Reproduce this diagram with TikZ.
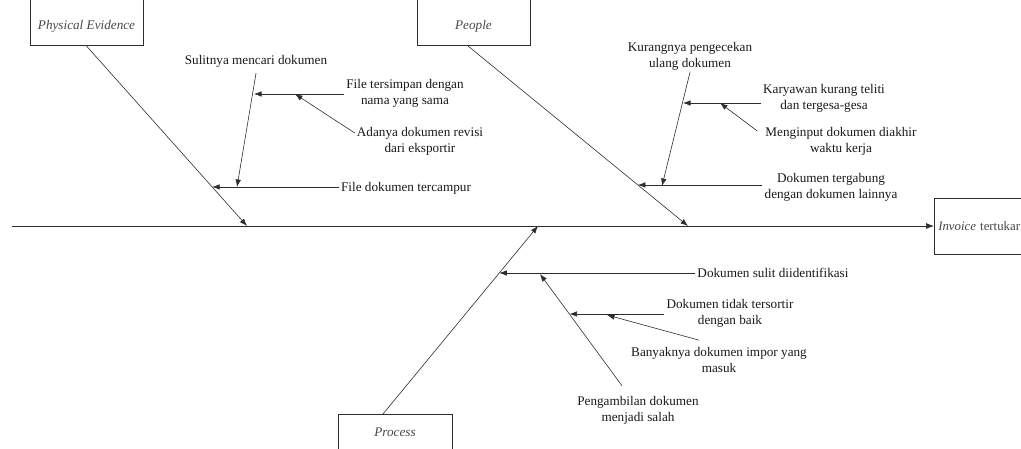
\documentclass[tikz,border=0pt]{standalone}
\usepackage{fontspec}
\setmainfont{Liberation Serif}
\usepackage{tikz}
\usetikzlibrary{arrows.meta,positioning,calc}
\definecolor{linegray}{RGB}{45, 45, 45}
\definecolor{textgray}{RGB}{25, 25, 25}

\begin{document}
\begin{tikzpicture}[
    x=1pt, y=-1pt,
    cause/.style={font=\fontsize{13.2}{16}\selectfont, align=center, text=textgray, inner sep=2pt},
    catbox/.style={rectangle, draw=linegray, line width=0.6pt, minimum width=113pt, align=center, font=\fontsize{13.2}{16}\selectfont\itshape, text=textgray!80, inner sep=0pt},
    arrow/.style={-{Latex[length=7.5pt,width=5.5pt]}, line width=0.6pt, linegray},
    spine/.style={-{Latex[length=8pt,width=6pt]}, line width=0.7pt, linegray}
]
\useasboundingbox (0,0) rectangle (1021,449);

% Categories and effect
\node[catbox, anchor=south, text height=45pt, text depth=16pt] (pe) at (86.5,46) {Physical Evidence};
\node[catbox, anchor=south, text height=45pt, text depth=16pt] (people) at (473.5,46) {People};
\node[catbox, anchor=north, minimum width=114pt, text height=22pt, text depth=45pt] (proc) at (395,414) {Process};
\node[catbox, anchor=west, minimum height=56pt, text width=115pt, align=left, inner xsep=4pt, font=\fontsize{12.8}{16}\selectfont] (inv) at (934,226) {\textit{Invoice} tertukar};

% Spine
\coordinate (tail) at (12,226);
\coordinate (pe1) at (247,226);
\coordinate (pp1) at (688,226);
\coordinate (pr1) at (538,226);
\coordinate (pp0) at (468,46);
\coordinate (pr0) at (383,414);

% Causes: Physical Evidence
\node[cause] (sul) at (256,61) {Sulitnya mencari dokumen};
\node[cause] (fts) at (405,93) {File tersimpan dengan\\nama yang sama};
\node[cause] (ada) at (420,141) {Adanya dokumen revisi\\dari eksportir};
\node[cause] (fdt) at (406,188) {File dokumen tercampur};

% Causes: People
\node[cause] (kur) at (690,56) {Kurangnya pengecekan\\ulang dokumen};
\node[cause] (kar) at (824,98) {Karyawan kurang teliti\\dan tergesa-gesa};
\node[cause] (men) at (841,141) {Menginput dokumen diakhir\\waktu kerja};
\node[cause] (dtg) at (831,187) {Dokumen tergabung\\dengan dokumen lainnya};

% Causes: Process
\node[cause] (dsi) at (773,273) {Dokumen sulit diidentifikasi};
\node[cause] (dtt) at (730,313) {Dokumen tidak tersortir\\dengan baik};
\node[cause] (ban) at (719,360) {Banyaknya dokumen impor yang\\masuk};
\node[cause] (pen) at (638,410) {Pengambilan dokumen\\menjadi salah};

% Arrow tips on the bones
\coordinate (f1) at ($(pe.south)!0.783!(pe1)$);
\coordinate (s1) at (237,187);
\coordinate (t1) at (254,94);
\coordinate (a1) at (295,94);
\coordinate (d1) at ($(pp0)!0.772!(pp1)$);
\coordinate (k1) at (662,186);
\coordinate (k2) at (683,103);
\coordinate (m1) at (720,103);
\coordinate (i1) at ($(pr0)!0.75!(pr1)$);
\coordinate (n1) at (540,274);
\coordinate (p1) at (569.5,314);
\coordinate (b1) at (607,315);

% Connectors
\draw[spine] (tail) -- (inv.west);
\draw[arrow] (pe.south) -- (pe1);
\draw[arrow] (pp0) -- (pp1);
\draw[arrow] (pr0) -- (pr1);

\draw[arrow] (f1 -| fdt.west) -- (f1);
\draw[arrow] ([yshift=-4pt]sul.south) -- (s1);
\draw[arrow] (t1 -| fts.west) -- (t1);
\draw[arrow] ([yshift=8pt]ada.west) -- (a1);

\draw[arrow] (d1 -| dtg.west) -- (d1);
\draw[arrow] (kur.south) -- (k1);
\draw[arrow] (k2 -| kar.west) -- (k2);
\draw[arrow] ([yshift=10pt,xshift=-6pt]men.west) -- (m1);

\draw[arrow] (i1 -| dsi.west) -- (i1);
\draw[arrow] ([xshift=-16pt,yshift=8pt]pen.north) -- (n1);
\draw[arrow] (p1 -| dtt.west) -- (p1);
\draw[arrow] ([xshift=-20pt,yshift=5pt]ban.north) -- (b1);

\end{tikzpicture}
\end{document}
